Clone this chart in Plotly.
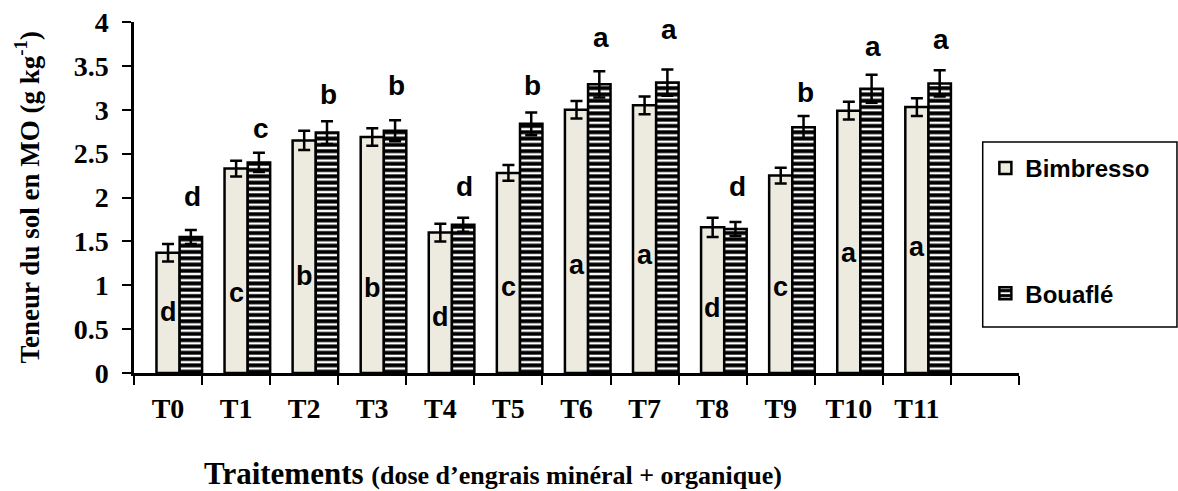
import plotly.graph_objects as go
import numpy as np

# ---- data ----
treatments = ["T0", "T1", "T2", "T3", "T4", "T5", "T6", "T7", "T8", "T9", "T10", "T11"]
bimbresso = [1.37, 2.33, 2.65, 2.69, 1.60, 2.28, 3.00, 3.05, 1.66, 2.25, 2.99, 3.03]
bimbresso_err = [0.10, 0.09, 0.11, 0.10, 0.10, 0.09, 0.10, 0.10, 0.11, 0.09, 0.10, 0.10]
bouafle = [1.55, 2.40, 2.74, 2.76, 1.69, 2.84, 3.29, 3.31, 1.64, 2.80, 3.24, 3.30]
bouafle_err = [0.08, 0.11, 0.13, 0.12, 0.08, 0.13, 0.15, 0.15, 0.08, 0.13, 0.16, 0.15]
letters_bimbresso = ["d", "c", "b", "b", "d", "c", "a", "a", "d", "c", "a", "a"]
letters_bimbresso_y = [0.69, 0.91, 1.10, 0.97, 0.64, 0.98, 1.23, 1.35, 0.74, 0.98, 1.37, 1.44]
letters_bouafle = ["d", "c", "b", "b", "d", "b", "a", "a", "d", "b", "a", "a"]
letters_bouafle_y = [2.01, 2.79, 3.17, 3.28, 2.12, 3.28, 3.82, 3.91, 2.12, 3.20, 3.72, 3.80]
yticks = [0, 0.5, 1, 1.5, 2, 2.5, 3, 3.5, 4]
ytick_text = ["0", "0.5", "1", "1.5", "2", "2.5", "3", "3.5", "4"]

xpos = np.arange(len(treatments))
serif = "Liberation Serif, Times New Roman, serif"
sans = "Liberation Sans, Arial, sans-serif"

fig = go.Figure()
fig.add_trace(go.Bar(
    x=xpos, y=bimbresso, name="Bimbresso", legendgroup="g1",
    offset=-0.17, width=0.34,
    marker=dict(color="#EDEBE0", line=dict(color="black", width=2.5)),
    error_y=dict(type="data", array=bimbresso_err, color="black", thickness=2.5, width=6),
))
fig.add_trace(go.Bar(
    x=xpos, y=bouafle, name="Bouaflé", legendgroup="g2",
    offset=0.17, width=0.33,
    marker=dict(color="white", line=dict(color="black", width=2.5),
                pattern=dict(shape="-", fgcolor="black", bgcolor="white", size=6.3,
                             solidity=0.62, fgopacity=1)),
    error_y=dict(type="data", array=bouafle_err, color="black", thickness=2.5, width=6),
))

for i, (l, y) in enumerate(zip(letters_bimbresso, letters_bimbresso_y)):
    fig.add_annotation(x=xpos[i], y=y, text=l, showarrow=False,
                       font=dict(family=sans, size=27, color="black", weight="bold"))
for i, (l, y) in enumerate(zip(letters_bouafle, letters_bouafle_y)):
    fig.add_annotation(x=xpos[i] + 0.36, y=y, text=l, showarrow=False,
                       font=dict(family=sans, size=28, color="black", weight="bold"))

# axis titles
fig.add_annotation(xref="paper", yref="paper", x=0.406, y=-0.285, xanchor="center", yanchor="middle",
                   showarrow=False,
                   text="Traitements <span style='font-size:26px'>(dose d’engrais minéral + organique)</span>",
                   font=dict(family=serif, size=31, color="black", weight="bold"))
fig.add_annotation(xref="paper", yref="paper", x=-0.121, y=0.5, xanchor="center", yanchor="middle",
                   showarrow=False, textangle=-90,
                   text="Teneur du sol en MO (g kg<sup>-1</sup>)",
                   font=dict(family=serif, size=27, color="black", weight="bold"))

# legend box
fig.add_shape(type="rect", xref="paper", yref="paper", x0=0.959, x1=1.1785, y0=0.131, y1=0.658,
              line=dict(color="black", width=1.5), fillcolor="rgba(0,0,0,0)")

boundaries = np.arange(-0.5, len(treatments) + 1, 1.0)
fig.update_xaxes(
    range=[-0.5, len(treatments) + 0.5], tickmode="array", tickvals=xpos, ticktext=treatments,
    ticks="", showline=True, linecolor="black", linewidth=2.5, showgrid=False, zeroline=False,
    tickfont=dict(family=serif, size=28, color="black", weight="bold"), ticklabelstandoff=9,
    automargin=False,
    minor=dict(tickmode="array", tickvals=boundaries, ticks="outside", ticklen=9, tickwidth=2,
               tickcolor="black", showgrid=False),
)
fig.update_yaxes(
    range=[0, 4], tickmode="array", tickvals=yticks, ticktext=ytick_text,
    ticks="outside", ticklen=9, tickwidth=2, tickcolor="black", automargin=False,
    showline=True, linecolor="black", linewidth=2.5, showgrid=False, zeroline=False,
    tickfont=dict(family=serif, size=28, color="black", weight="bold"), ticklabelstandoff=8,
)
fig.update_layout(
    width=1178, height=491, margin=dict(l=134, r=159, t=22, b=118, autoexpand=False),
    paper_bgcolor="white", plot_bgcolor="white", barmode="overlay",
    showlegend=True,
    legend=dict(x=0.962, y=0.647, xanchor="left", yanchor="top", bgcolor="rgba(0,0,0,0)",
                tracegroupgap=91, traceorder="grouped",
                font=dict(family=sans, size=24, color="black", weight="bold")),
)
fig.write_html("out.html", config={"displayModeBar": False},
               post_script="document.body.style.margin='0px';document.body.style.overflow='hidden';")
